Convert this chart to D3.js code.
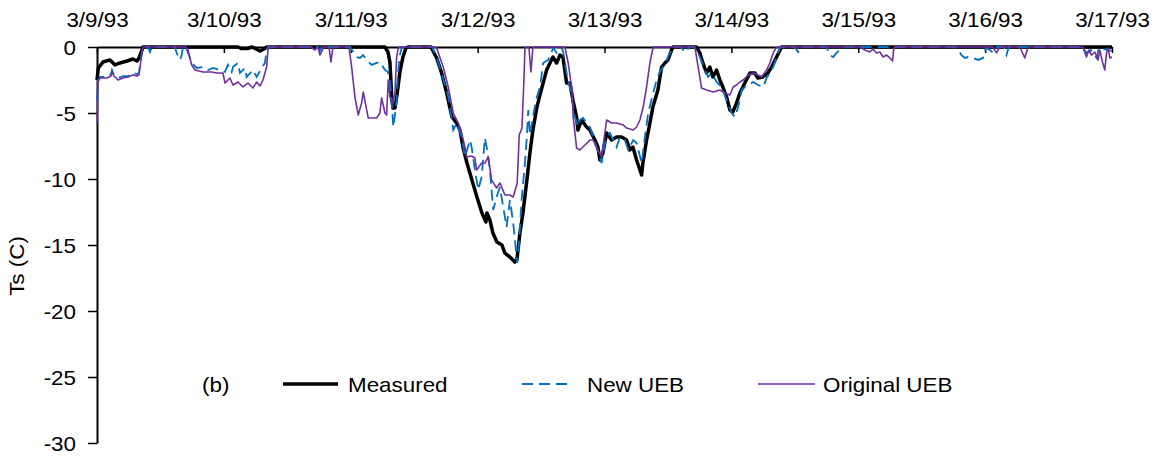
<!DOCTYPE html>
<html>
<head>
<meta charset="utf-8">
<script src="https://cdn.jsdelivr.net/npm/d3@7"></script>
<style>
  html, body { margin: 0; padding: 0; background: #fff; }
  svg { display: block; font-family: "Liberation Sans", Arial, sans-serif; }
</style>
</head>
<body>
<svg id="chart" width="1159" height="458"></svg>
<script>
// Snow surface temperature, 3/9/93 - 3/17/93. Times are hours after 3/9/93 00:00.
const xTickLabels = ["3/9/93", "3/10/93", "3/11/93", "3/12/93", "3/13/93", "3/14/93", "3/15/93", "3/16/93", "3/17/93"];
const yTicks = [0, -5, -10, -15, -20, -25, -30];
const seriesNames = ["Measured", "New UEB", "Original UEB"];
const panelLabel = "(b)";
const yTitle = "Ts (C)";

const measuredHours = [0, 0.25, 1.13, 2.46, 3.40, 4.35, 5.67, 6.81, 7.56, 7.94, 8.51, 8.70,
  26.67, 27.23, 28.56, 29.31, 30.07, 30.83, 31.58, 32.15,
  54.47, 55.04, 55.41, 55.79, 55.98, 56.36, 56.74, 57.30, 57.87, 58.44, 58.82,
  63.17, 64.25, 65.19, 66.14, 66.76, 67.14, 68.03, 68.66, 69.22, 69.98, 70.92, 71.87, 72.81, 73.57, 73.76,
  74.33, 74.89, 75.65, 76.60, 77.16, 78.11, 79.05, 79.43, 80.00, 80.57, 81.32, 81.89, 82.46, 83.22, 83.78,
  85.05, 86.24, 86.94, 87.56, 88.13, 88.83, 89.46, 90.02, 90.72, 90.97, 91.67, 92.61, 93.24, 94.18, 94.75,
  95.13, 95.70, 96.40, 97.34, 98.29, 99.23, 100.18, 100.80, 101.37, 102.07, 103.02, 103.26, 103.96, 104.59,
  105.15, 106.10, 106.80, 107.42, 107.99, 108.69, 108.94,
  113.42, 114.04, 114.61, 115.31, 115.93, 116.50, 117.20, 117.82, 118.39, 119.09, 119.72, 120.28, 120.98,
  121.61, 122.55, 123.50, 124.44, 125.01, 125.96, 126.90, 127.60, 128.55, 129.50, 192];
const measuredTs = [-2.50, -1.59, -1.14, -0.98, -1.36, -1.21, -1.06, -0.91, -1.06, -0.83, -0.23, 0,
  0, -0.11, -0.11, 0, -0.15, -0.30, -0.15, 0,
  0, -0.38, -1.14, -4.02, -4.62, -4.62, -3.64, -1.89, -0.76, -0.08, 0,
  0, -0.83, -1.97, -3.48, -4.62, -5.30, -5.76, -6.29, -7.58, -8.79, -10.08, -11.36, -12.58, -13.26, -12.58,
  -13.11, -14.09, -14.77, -15.00, -15.61, -15.91, -16.29, -16.14, -14.09, -12.58, -10.08, -8.03, -6.29, -4.55, -3.64,
  -1.74, -0.76, -1.21, -0.61, -0.76, -2.73, -2.73, -4.02, -5.30, -6.29, -5.53, -6.06, -6.29, -7.05, -7.58,
  -8.56, -8.03, -6.52, -7.05, -6.82, -6.82, -7.05, -7.80, -7.58, -8.56, -9.70, -8.79, -7.05, -5.76,
  -4.55, -3.26, -1.52, -1.21, -0.98, -0.23, 0,
  0, -0.45, -1.21, -1.97, -1.52, -2.27, -1.74, -2.50, -3.03, -3.79, -4.77, -4.92, -4.24,
  -3.48, -2.73, -1.97, -1.97, -2.35, -2.27, -1.97, -1.52, -0.76, 0, 0];

const newUebHours = [0, 0.19, 0.57, 1.89, 2.65, 2.84, 3.22, 3.97, 4.92, 5.86, 6.81, 7.56, 7.94, 8.32, 8.70,
  9.65, 10.02, 10.40, 14.75, 15.07, 15.70, 16.02, 16.26,
  16.83, 17.91, 18.86, 20.05, 20.99, 21.94, 23.26, 24.21, 24.77, 25.48, 25.72, 26.67, 27.04, 27.99, 28.31,
  29.50, 30.20, 31.15, 31.77, 32.09, 32.34,
  41.80, 42.17, 42.55,
  47.85, 49.11, 49.74, 50.31, 51.01, 51.95, 52.90, 53.52, 54.47, 55.04, 55.41, 55.73, 56.04, 56.36, 56.68,
  56.93, 57.30, 57.62, 57.87,
  63.36, 64.30, 65.44, 66.38, 66.76, 67.39, 68.03, 68.97, 69.60, 70.55, 70.87, 71.49, 72.12, 72.76, 73.38,
  73.82, 74.33, 74.95, 75.59, 76.22, 76.84, 77.48, 78.11, 78.73, 79.19, 79.49, 79.87, 80.32, 80.95, 81.27,
  81.58, 81.89, 82.52, 83.16, 83.78, 84.41, 85.35, 86.30, 86.94, 87.88, 88.19, 88.83, 89.78, 90.40, 91.03,
  91.35, 91.97, 92.61, 93.24, 93.86, 94.50, 95.45, 96.08, 97.02, 97.65, 98.29, 98.91, 99.86, 100.48, 101.43,
  102.07, 103.02, 103.64, 104.27, 105.21, 105.85, 106.48, 107.11, 107.75, 108.69, 109.01,
  110.47, 110.90, 111.55, 111.96,
  112.90, 113.42, 114.04, 114.99, 115.61, 116.26, 117.20, 118.15, 119.09, 120.04, 120.66, 121.29, 121.93,
  122.55, 123.18, 124.13, 125.07, 126.02, 126.66, 127.28, 127.91, 128.55, 129.17, 129.80,
  131.98, 132.61, 133.13,
  138.01, 138.63, 139.26, 139.90, 140.52, 141.47,
  162.46, 162.89, 163.54, 164.16, 164.78, 165.73, 166.68, 167.62, 168.13, 168.89, 169.51, 170.21,
  171.53, 172.04, 172.48,
  186.10, 186.54, 187.18, 188.00, 189.07, 189.51, 192];
const newUebTs = [-4.02, -2.50, -2.27, -2.27, -2.05, -1.74, -2.12, -2.35, -2.20, -2.20, -1.97, -2.05, -1.97, -0.83, 0,
  0, -0.38, 0, 0, -0.45, -0.98, -0.61, 0,
  0, -1.21, -1.59, -1.52, -1.74, -1.59, -1.74, -1.89, -1.36, -1.89, -1.52, -1.21, -1.97, -1.59, -2.27,
  -1.74, -2.27, -1.59, -1.21, -0.23, 0,
  0, -0.30, 0,
  0, -0.76, -0.83, -0.61, -0.98, -1.36, -1.21, -1.14, -1.74, -1.89, -2.50, -4.02, -6.06, -5.15, -4.02,
  -1.97, -0.61, -0.08, 0,
  0, -0.83, -2.35, -3.64, -4.55, -6.29, -5.76, -6.82, -8.33, -7.05, -7.58, -9.32, -10.83, -9.85, -6.89,
  -7.80, -9.32, -12.35, -11.36, -10.61, -12.12, -13.64, -11.59, -13.33, -15.15, -16.36, -14.62, -11.59, -8.79, -7.05,
  -4.77, -6.67, -5.15, -3.86, -3.03, -1.21, -0.98, -0.08, -0.45, -0.08, -0.38, -1.97, -3.64, -5.30, -6.06,
  -5.53, -5.38, -5.76, -6.06, -6.82, -7.58, -8.79, -7.27, -6.52, -7.05, -7.58, -6.82, -7.05, -7.80, -7.05,
  -7.27, -8.79, -6.82, -5.00, -3.48, -2.50, -1.89, -1.52, -0.98, -0.23, 0,
  0, -0.23, -0.38, 0,
  0, -0.23, -0.76, -1.74, -2.27, -1.97, -2.65, -3.03, -4.02, -5.00, -5.30, -4.55, -3.26,
  -3.03, -2.88, -2.65, -2.88, -3.03, -2.35, -1.97, -1.52, -0.76, -0.08, 0,
  0, -0.38, 0,
  0, -0.61, -0.76, -0.45, -0.23, 0,
  0, -0.23, -0.61, -0.83, -0.76, -0.83, -0.98, -0.83, -0.08, -0.23, -0.45, 0,
  0, -0.61, 0,
  0, -0.08, -0.45, -0.23, -0.83, -0.08, -0.30];

const originalUebHours = [0, 0.19, 0.57, 1.89, 2.65, 2.84, 3.22, 3.97, 4.92, 5.86, 6.81, 7.56, 7.94, 8.32, 8.70,
  16.83, 17.21, 17.91, 18.53, 20.05, 21.69, 22.64, 23.83, 24.21, 25.15, 25.72, 26.67, 27.61, 28.56, 29.50,
  30.20, 30.83, 31.39, 32.09, 32.34, 32.53,
  40.47, 41.23, 41.80, 42.17, 42.93, 43.88, 44.26, 44.63,
  47.66, 48.17, 48.79, 49.42, 50.06, 50.36, 51.01, 51.31, 52.90, 53.52, 53.84, 54.47, 54.79, 55.09, 55.41,
  55.98, 56.36, 56.68, 56.98, 57.12,
  63.74, 64.25, 65.49, 66.44, 67.39, 68.33, 68.97, 69.60, 69.92, 70.87, 71.49, 71.81, 72.76, 73.38, 74.01,
  74.65, 75.59, 76.22, 77.16, 78.11, 78.73, 79.49, 79.87, 80.38, 80.76, 80.95, 81.27,
  81.70, 82.08, 82.46,
  88.51, 89.13, 89.78, 90.08, 90.72, 91.35, 92.29, 93.24, 93.86, 94.50, 95.45, 96.40, 97.34, 98.29, 99.54,
  100.18, 101.43, 102.07, 102.70, 103.32, 103.96, 104.59, 105.21,
  113.10, 113.72, 114.36, 115.31, 116.56, 117.82, 118.77, 119.72, 120.34, 120.98, 121.61, 122.23, 123.18,
  124.13, 125.07, 125.71, 126.66, 127.28, 127.91, 128.55,
  144.30, 145.25, 146.19, 146.76, 147.46, 148.09, 148.71, 149.36, 149.98, 150.49, 150.73, 150.92,
  169.46, 170.16, 170.78, 174.56, 175.51, 176.07, 176.26,
  186.48, 187.18, 187.61, 188.12, 188.75, 189.37, 189.69, 190.20, 190.64, 190.96, 191.26, 191.58, 192];
const originalUebTs = [-5.76, -2.65, -2.35, -2.35, -2.20, -1.89, -2.20, -2.50, -2.35, -2.27, -2.12, -2.20, -2.12, -0.98, 0,
  0, -0.23, -1.36, -1.74, -1.89, -1.89, -1.97, -1.97, -2.73, -2.35, -2.88, -2.65, -3.03, -2.73, -3.11,
  -2.65, -2.95, -2.50, -1.52, -0.23, 0,
  0, -0.23, 0, -0.61, 0, 0, -1.14, 0,
  0, -1.52, -3.79, -5.15, -4.24, -3.41, -4.77, -5.38, -5.38, -5.00, -3.86, -5.00, -5.15, -2.50, -3.79,
  -4.24, -3.48, -0.76, -0.08, 0,
  0, -0.08, -1.52, -3.03, -5.00, -5.76, -6.52, -7.58, -8.33, -8.26, -8.41, -9.32, -8.79, -8.79, -8.33,
  -10.08, -10.68, -10.30, -11.21, -11.21, -11.36, -10.30, -6.67, -6.14, -2.50, -0.08, 0,
  0, -1.89, 0,
  0, -1.21, -3.03, -5.30, -7.65, -7.80, -7.42, -7.05, -7.05, -7.65, -8.33, -5.53, -5.76, -5.76, -5.91,
  -6.14, -6.29, -6.06, -5.53, -4.55, -3.03, -1.21, 0,
  0, -1.52, -3.11, -3.26, -3.41, -3.26, -3.48, -3.64, -3.03, -2.88, -2.65, -2.50, -2.12,
  -1.97, -2.12, -2.27, -1.74, -1.21, -0.45, 0,
  0, -0.23, -0.38, -0.15, -0.45, -0.38, -0.76, -0.61, -0.83, -1.06, -0.08, 0,
  0, -0.45, 0, 0, -0.83, -0.08, 0,
  0, -0.76, -0.23, -0.61, -0.38, -0.98, -0.23, -1.14, -1.74, -0.45, -0.08, -0.83, -0.76];

const colors = { measured: "#000000", newUeb: "#0070C0", originalUeb: "#7030A0" };

const svg = d3.select("#chart");
const parseDay = d3.timeParse("%m/%d/%y");
const fmtDay = d3.timeFormat("%-m/%-d/%y");
const t0 = parseDay(xTickLabels[0]);
const toDate = h => new Date(t0.getTime() + h * 3600 * 1000);
const tickDates = xTickLabels.map(parseDay);

const x = d3.scaleTime().domain([t0, tickDates[tickDates.length - 1]]).range([97, 1112]);
const y = d3.scaleLinear().domain([-30, 0]).range([443, 47]);

// Text in this figure is set slightly wide; stretch it along its reading direction.
const WIDE = 1.12;
const FS = 20;

// y axis
const yAxis = svg.append("g").attr("transform", "translate(97,0)")
  .call(d3.axisLeft(y).tickValues(yTicks).tickSizeInner(9).tickSizeOuter(0).tickFormat(d3.format("d")));
yAxis.select(".domain").attr("stroke", "#000").attr("stroke-width", 2);
yAxis.selectAll(".tick line").attr("stroke", "#000").attr("stroke-width", 1.5);
yAxis.selectAll(".tick text")
  .attr("x", 0).attr("dy", null).attr("y", 0)
  .attr("text-anchor", "end")
  .attr("transform", `translate(-21,7.5) scale(${WIDE},1)`)
  .attr("font-size", FS).attr("font-family", null).attr("fill", "#000")
  .text(d => d === 0 ? "0" : "-" + Math.abs(d));

// x axis along the 0 line, labels above
const xAxis = svg.append("g").attr("transform", `translate(0,${y(0)})`)
  .call(d3.axisTop(x).tickValues(tickDates).tickSizeInner(-6).tickSizeOuter(0).tickFormat(fmtDay));
xAxis.select(".domain").attr("stroke", "#000").attr("stroke-width", 2);
xAxis.selectAll(".tick line").attr("stroke", "#000").attr("stroke-width", 1.5);
xAxis.selectAll(".tick text")
  .attr("y", 0).attr("dy", null)
  .attr("text-anchor", "middle")
  .attr("transform", `translate(0,-20) scale(${WIDE},1)`)
  .attr("font-size", FS).attr("font-family", null).attr("fill", "#000");

// y axis title
svg.append("text")
  .attr("transform", `translate(24,266) rotate(-90) scale(${WIDE},1)`)
  .attr("text-anchor", "middle").attr("font-size", FS).attr("fill", "#000")
  .text(yTitle);

// series
const line = d3.line().x(d => x(toDate(d[0]))).y(d => y(d[1]));
const zip = (hs, vs) => hs.map((h, i) => [h, vs[i]]);

svg.append("path").datum(zip(measuredHours, measuredTs))
  .attr("fill", "none").attr("stroke", colors.measured).attr("stroke-width", 3.5)
  .attr("stroke-linejoin", "round").attr("d", line);
svg.append("path").datum(zip(newUebHours, newUebTs))
  .attr("fill", "none").attr("stroke", colors.newUeb).attr("stroke-width", 1.8)
  .attr("stroke-dasharray", "11,6").attr("d", line);
svg.append("path").datum(zip(originalUebHours, originalUebTs))
  .attr("fill", "none").attr("stroke", colors.originalUeb).attr("stroke-width", 1.6)
  .attr("stroke-linejoin", "round").attr("d", line);

// legend
const wideText = (tx, ty, str) => svg.append("text")
  .attr("transform", `translate(${tx},${ty}) scale(${WIDE},1)`)
  .attr("font-size", FS).attr("fill", "#000").text(str);

wideText(202, 392, panelLabel);
const legendItems = [
  { name: seriesNames[0], x1: 283, x2: 338, tx: 348, color: colors.measured, w: 3.5, dash: null },
  { name: seriesNames[1], x1: 522, x2: 572, tx: 587, color: colors.newUeb, w: 1.8, dash: "11,6" },
  { name: seriesNames[2], x1: 758, x2: 815, tx: 823, color: colors.originalUeb, w: 1.6, dash: null }
];
legendItems.forEach(it => {
  svg.append("line").attr("x1", it.x1).attr("x2", it.x2).attr("y1", 384).attr("y2", 384)
    .attr("stroke", it.color).attr("stroke-width", it.w).attr("stroke-dasharray", it.dash);
  wideText(it.tx, 392, it.name);
});
</script>
</body>
</html>
